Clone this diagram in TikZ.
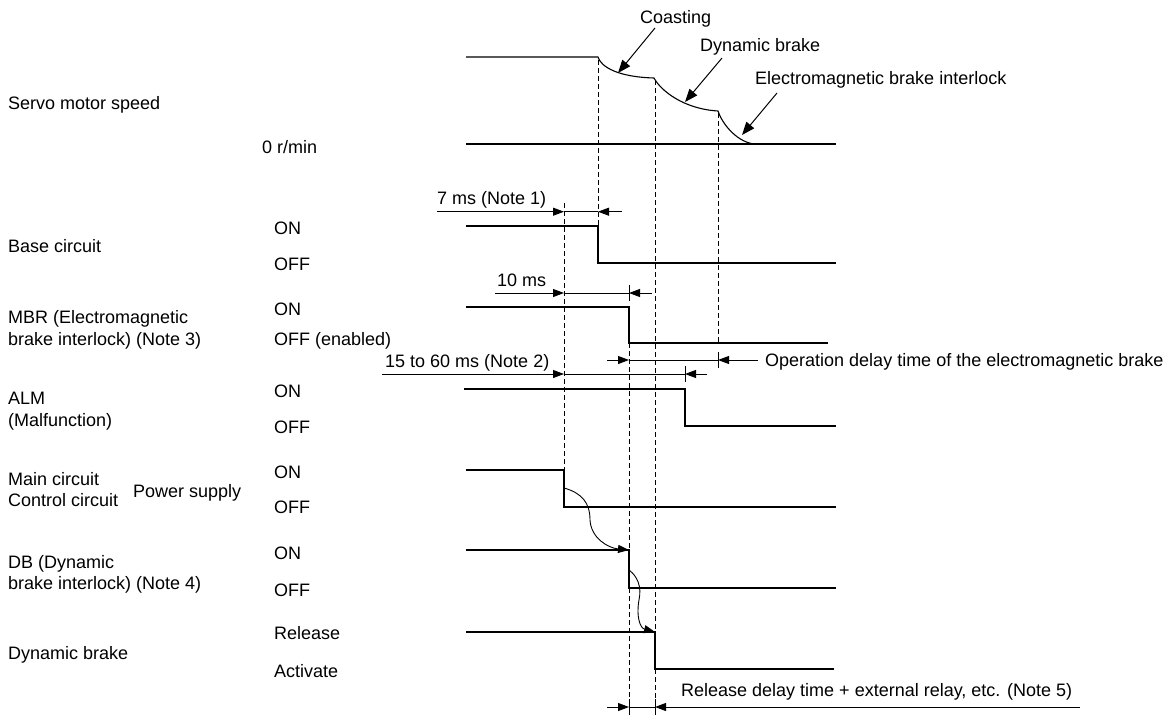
\documentclass[tikz,border=0pt]{standalone}
\usepackage{fontspec}
\setmainfont{Liberation Sans}
\usetikzlibrary{arrows.meta}
\begin{document}
\begin{tikzpicture}[x=1pt,y=-1pt,
  lbl/.style={anchor=base west, inner sep=0pt, font=\fontsize{18}{21}\selectfont},
  sig/.style={line width=1.1pt},
  dsh/.style={line width=0.9pt, dash pattern=on 5pt off 3pt},
  thin/.style={line width=0.9pt},
  tipr/.style={line width=0.9pt, -{Triangle[length=11pt,width=8pt]}},
  callout/.style={line width=1pt, -{Triangle[length=13pt,width=10pt]}}]
\useasboundingbox (0,0) rectangle (1176,715);

% ---------- left labels ----------
\node[lbl] (lspeed) at (8,109.5) {Servo motor speed};
\node[lbl] (lzero) at (262,153.5) {0 r/min};
\node[lbl] (bon) at (274,234.5) {ON};
\node[lbl] (lbase) at (8,252.5) {Base circuit};
\node[lbl] (boff) at (274,270.5) {OFF};
\node[lbl] (mon) at (274,315.5) {ON};
\node[lbl] (lmbr1) at (8,323.5) {MBR (Electromagnetic};
\node[lbl] (lmbr2) at (8,345.5) {brake interlock) (Note 3)};
\node[lbl] (moff) at (274,345.5) {OFF (enabled)};
\node[lbl] (aon) at (274,397.5) {ON};
\node[lbl] (lalm1) at (8,404.5) {ALM};
\node[lbl] (lalm2) at (8,426.5) {(Malfunction)};
\node[lbl] (aoff) at (274,433.5) {OFF};
\node[lbl] (pon) at (274,478.5) {ON};
\node[lbl] (lmain) at (8,485.5) {Main circuit};
\node[lbl] (lpow) at (133,497.5) {Power supply};
\node[lbl] (lctrl) at (8,506.5) {Control circuit};
\node[lbl] (poff) at (274,513.5) {OFF};
\node[lbl] (don) at (274,559.5) {ON};
\node[lbl] (ldb1) at (8,568.5) {DB (Dynamic};
\node[lbl] (ldb2) at (8,589.5) {brake interlock) (Note 4)};
\node[lbl] (doff) at (274,596.5) {OFF};
\node[lbl] (rrel) at (274,639.5) {Release};
\node[lbl] (ldyn) at (8,659.5) {Dynamic brake};
\node[lbl] (ract) at (274,677.5) {Activate};

% ---------- time labels ----------
\node[lbl] (t7) at (437,204.5) {7 ms (Note 1)};
\node[lbl] (t10) at (497,286.5) {10 ms};
\node[lbl] (t15) at (385,367.5) {15 to 60 ms (Note 2)};
\node[lbl] (top) at (765,366.5) {Operation delay time of the electromagnetic brake};
\node[lbl] (trel) at (681,696.5) {Release delay time + external relay, etc. (Note 5)};
\node[lbl] (tcoast) at (640,23.5) {Coasting};
\node[lbl] (tdyn) at (700,51.5) {Dynamic brake};
\node[lbl] (tem) at (755,84.5) {Electromagnetic brake interlock};

% ---------- servo motor speed ----------
\coordinate (s0) at (466,57);
\coordinate (s1) at (598,57);
\coordinate (s2) at (654,78);
\coordinate (s3) at (718,111);
\coordinate (s4) at (755,144);
\draw[sig] (s0) -- (s1) .. controls (601,67) and (618,77) .. (s2)
  .. controls (661,91) and (684,109) .. (s3)
  .. controls (723,126) and (739,143) .. (s4);
\draw[sig] (466,144) -- (836,144);

% ---------- signals ----------
\draw[sig] (466,226) -- (598,226) -- (598,263) -- (836,263);
\draw[sig] (466,307) -- (629,307) -- (629,343) -- (828,343);
\draw[sig] (464,389) -- (685,389) -- (685,426) -- (836,426);
\draw[sig] (466,470) -- (564,470) -- (564,507) -- (836,507);
\draw[sig] (466,550) -- (629,550) -- (629,588) -- (836,588);
\draw[sig] (466,632) -- (655,632) -- (655,669) -- (834,669);

% ---------- dashed guides ----------
\draw[dsh] (564,203) -- (564,470);
\draw[dsh] (598,60) -- (598,226);
\draw[dsh] (629,343) -- (629,550);
\draw[dsh] (629,588) -- (629,715);
\draw[dsh] (655,80) -- (655,632);
\draw[dsh] (655,669) -- (655,715);
\draw[dsh] (718,113) -- (718,343);

% ---------- time arrows ----------
% 7 ms
\draw[tipr] (437,211.7) -- (564,211.7);
\draw[thin] (564,211.7) -- (598,211.7);
\draw[tipr] (622,211.7) -- (598,211.7);
% 10 ms
\draw[tipr] (495,293) -- (564,293);
\draw[thin] (564,293) -- (629,293);
\draw[tipr] (652,293) -- (629,293);
\draw[thin] (629,285) -- (629,301);
% operation delay
\draw[tipr] (607,360) -- (629,360);
\draw[thin] (629,360) -- (718,360);
\draw[tipr] (758,360) -- (718,360);
\draw[thin] (718,352) -- (718,368);
% 15 to 60 ms
\draw[tipr] (382,374) -- (564,374);
\draw[thin] (564,374) -- (685,374);
\draw[tipr] (707,374) -- (685,374);
\draw[thin] (685,366) -- (685,382);
% release delay
\draw[tipr] (607,707) -- (629,707);
\draw[thin] (629,707) -- (655,707);
\draw[tipr] (1080,707) -- (655,707);
\draw[thin] (629,699) -- (629,715);
\draw[thin] (655,699) -- (655,715);

% ---------- wavy causal arrows ----------
\coordinate (w1a) at (564,488);
\coordinate (w1b) at (629,550);
\draw[thin, -{Triangle[length=11pt,width=8pt]}] (w1a) .. controls (582,493) and (590,503) .. (590,520)
  .. controls (591,538) and (608,548) .. (w1b);
\coordinate (w2a) at (629,570);
\coordinate (w2b) at (655,632);
\draw[thin, -{Triangle[length=11pt,width=8pt]}] (w2a) .. controls (637,576) and (642,586) .. (639,600)
  .. controls (636,616) and (640,628) .. (w2b);

% ---------- callouts ----------
\coordinate (c1a) at (655,28);
\coordinate (c1b) at (618,73);
\draw[callout] (c1a) -- (c1b);
\coordinate (c2a) at (722,58);
\coordinate (c2b) at (685,102);
\draw[callout] (c2a) -- (c2b);
\coordinate (c3a) at (777,93);
\coordinate (c3b) at (742,135);
\draw[callout] (c3a) -- (c3b);
\end{tikzpicture}
\end{document}
